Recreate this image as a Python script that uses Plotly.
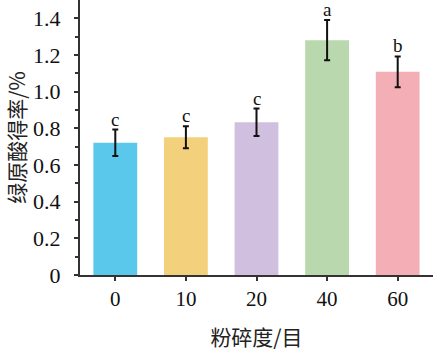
import plotly.graph_objects as go

categories = ["0", "10", "20", "40", "60"]
values = [0.721, 0.751, 0.833, 1.281, 1.108]
errors = [0.072, 0.060, 0.075, 0.110, 0.084]
letters = ["c", "c", "c", "a", "b"]
colors = ["#5AC8EB", "#F3D07C", "#D0BFDE", "#B9D8AD", "#F4AEB5"]

serif = "Liberation Serif"
cjk = "Noto Sans CJK SC"

fig = go.Figure()
fig.add_trace(go.Bar(
    x=categories, y=values,
    marker=dict(color=colors, line=dict(width=0)),
    width=0.62,
    error_y=dict(type="data", array=errors, color="#111111", thickness=2, width=3),
))

for i, (v, e, t) in enumerate(zip(values, errors, letters)):
    fig.add_annotation(x=i, y=v + e, xref="x", yref="y", text=t, showarrow=False,
                       yanchor="bottom", yshift=-2,
                       font=dict(family=serif, size=19, color="#111111"))

fig.update_layout(
    width=435, height=351,
    margin=dict(l=80, r=2, t=0, b=76),
    plot_bgcolor="white", paper_bgcolor="white",
    showlegend=False,
    font=dict(family=serif, size=20, color="#111111"),
)
fig.update_xaxes(
    type="category", range=[-0.5, 4.5],
    showline=True, linecolor="#333333", linewidth=2,
    ticks="outside", ticklen=4, tickwidth=1.5, tickcolor="#333333",
    showgrid=False, zeroline=False,
    title=dict(text="粉碎度/目", font=dict(family=cjk, size=21, color="#222222"), standoff=22),
    tickfont=dict(family=serif, size=21),
    minor=dict(ticks="outside", ticklen=3, tickwidth=1.5, tickcolor="#333333", showgrid=False),
)
fig.update_yaxes(
    range=[0, 1.5], tickvals=[0, 0.2, 0.4, 0.6, 0.8, 1.0, 1.2, 1.4],
    ticktext=["0", "0.2", "0.4", "0.6", "0.8", "1.0", "1.2", "1.4"],
    showline=True, linecolor="#333333", linewidth=2,
    ticks="outside", ticklen=4, tickwidth=1.5, tickcolor="#333333",
    showgrid=False, zeroline=False, ticklabelstandoff=9,
    title=dict(text="绿原酸得率/%", font=dict(family=cjk, size=21, color="#222222"), standoff=2),
    tickfont=dict(family=serif, size=22),
    minor=dict(ticks="outside", ticklen=3, tickwidth=1.5, tickcolor="#333333",
               tickvals=[0.1, 0.3, 0.5, 0.7, 0.9, 1.1, 1.3], showgrid=False),
)

fig.write_html("out.html")
